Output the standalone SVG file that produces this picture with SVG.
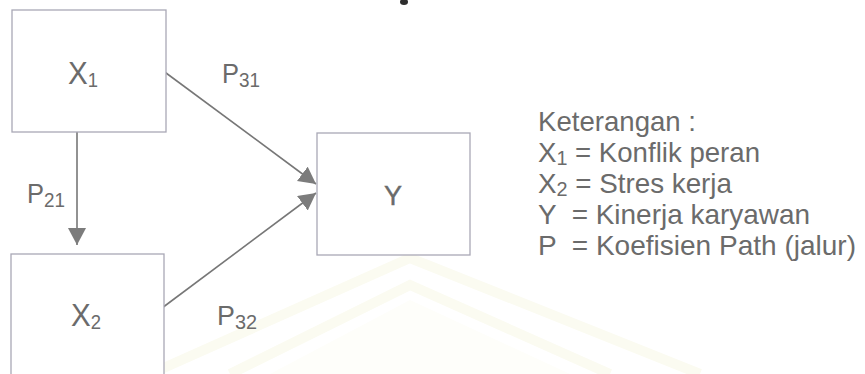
<svg xmlns="http://www.w3.org/2000/svg" width="865" height="374" viewBox="0 0 865 374">
  <style>
    .box { fill: #ffffff; stroke: #a9a8b6; stroke-width: 1.3; }
    .lbl { font-family: "Liberation Sans", Arial, sans-serif; fill: #6b6b6b; }
    .node { font-size: 32px; }
    .coef { font-size: 27px; }
    .sub { font-size: 20px; }
    .legend { font-size: 28px; }
    .edge { stroke: #777777; stroke-width: 1.6; fill: none; marker-end: url(#head); }
  </style>
  <defs>
    <marker id="head" markerUnits="userSpaceOnUse" markerWidth="20" markerHeight="20" refX="17" refY="9" orient="auto">
      <path d="M0,0 L17,9 L0,18 Z" fill="#7c7c7c"/>
    </marker>
  </defs>

  <rect width="865" height="374" fill="#ffffff"/>

  <!-- faint watermark emblem in the background -->
  <g id="watermark" fill="none" stroke="#fbfbf1" stroke-width="10">
    <path d="M150,374 L410,258 L700,374"/>
    <path d="M230,374 L410,285 L610,374"/>
  </g>
  <path d="M270,374 L410,300 L570,374 Z" fill="#fefefa"/>

  <!-- remnant mark at the top edge -->
  <ellipse cx="404" cy="2" rx="4" ry="3" fill="#2e2e2e"/>

  <!-- connectors -->
  <g id="connectors">
    <line class="edge" x1="77" y1="132" x2="77" y2="245"/>
    <line class="edge" x1="162" y1="70" x2="316" y2="184"/>
    <line class="edge" x1="162" y1="308" x2="316" y2="193"/>
  </g>

  <!-- path coefficients -->
  <g id="coefficients" class="lbl">
    <text class="coef" x="222" y="83" textLength="38" lengthAdjust="spacingAndGlyphs">P<tspan class="sub" dy="4">31</tspan></text>
    <text class="coef" x="27" y="203" textLength="38" lengthAdjust="spacingAndGlyphs">P<tspan class="sub" dy="4">21</tspan></text>
    <text class="coef" x="217" y="325" textLength="40" lengthAdjust="spacingAndGlyphs">P<tspan class="sub" dy="4">32</tspan></text>
  </g>

  <!-- nodes -->
  <g id="node-x1">
    <rect class="box" x="12" y="10" width="154" height="122"/>
    <text class="lbl node" x="68" y="84" textLength="30" lengthAdjust="spacingAndGlyphs">X<tspan class="sub" dy="3">1</tspan></text>
  </g>
  <g id="node-x2">
    <rect class="box" x="11" y="254" width="153" height="130"/>
    <text class="lbl node" x="71" y="326" textLength="30" lengthAdjust="spacingAndGlyphs">X<tspan class="sub" dy="3">2</tspan></text>
  </g>
  <g id="node-y">
    <rect class="box" x="317" y="133" width="153" height="122"/>
    <text class="lbl" x="393" y="205" text-anchor="middle" font-size="27" stroke="#6b6b6b" stroke-width="0.4">Y</text>
  </g>

  <!-- legend -->
  <g id="legend" class="lbl legend">
    <text x="538" y="131" textLength="158" lengthAdjust="spacingAndGlyphs">Keterangan :</text>
    <text x="538" y="162" textLength="222" lengthAdjust="spacingAndGlyphs">X<tspan class="sub" dy="3">1</tspan><tspan dy="-3"> = Konflik peran</tspan></text>
    <text x="538" y="193" textLength="194" lengthAdjust="spacingAndGlyphs">X<tspan class="sub" dy="3">2</tspan><tspan dy="-3"> = Stres kerja</tspan></text>
    <text x="538" y="224" xml:space="preserve" textLength="272" lengthAdjust="spacingAndGlyphs">Y  = Kinerja karyawan</text>
    <text x="538" y="255" xml:space="preserve" textLength="318" lengthAdjust="spacingAndGlyphs">P  = Koefisien Path (jalur)</text>
  </g>
</svg>
